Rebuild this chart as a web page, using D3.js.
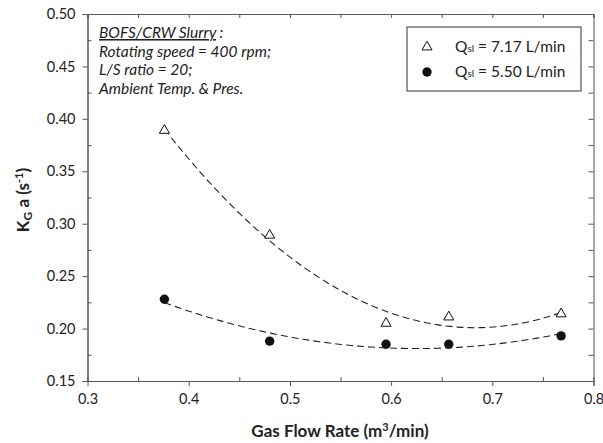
<!DOCTYPE html>
<html><head><meta charset="utf-8">
<script src="https://cdn.jsdelivr.net/npm/d3@7"></script>
<style>body{margin:0;background:#fff}svg{display:block}text{font-family:Lato,"Open Sans",sans-serif}</style>
</head><body><svg id="c" width="603" height="443"></svg>
<script>
const xTicks=[0.3,0.4,0.5,0.6,0.7,0.8];
const yTicks=[0.15,0.20,0.25,0.30,0.35,0.40,0.45,0.50];
const flowA=[0.376,0.480,0.595,0.657,0.768];
const kgaA=[0.389,0.289,0.205,0.211,0.214];
const flowB=[0.376,0.480,0.595,0.657,0.768];
const kgaB=[0.228,0.188,0.185,0.185,0.193];
const legendLabels=["7.17 L/min","5.50 L/min"];
const noteLines=["Rotating speed = 400 rpm;","L/S ratio = 20;","Ambient Temp. & Pres."];

const svg=d3.select("#c");
const L=87.5,R=593.5,T=14,B=381;
const x=d3.scaleLinear().domain([0.3,0.8]).range([L,R]);
const y=d3.scaleLinear().domain([0.15,0.50]).range([B,T]);
const axCol="#555";

function style(g){g.select(".domain").attr("stroke",axCol);g.selectAll(".tick line").attr("stroke",axCol);
 g.selectAll("text").attr("fill","#222").style("font-size","14.5px");}

const xMinor=d3.range(0.3,0.8001,0.05);
const yMinor=d3.range(0.15,0.5001,0.025);
svg.append("g").attr("transform",`translate(${L},0)`).call(d3.axisLeft(y).tickValues(yTicks).tickSize(5).tickFormat(d3.format(".2f")).tickPadding(7)).call(style);
svg.append("g").attr("transform",`translate(${L},0)`).call(d3.axisRight(y).tickValues(yMinor.filter((d,i)=>i%2==1)).tickSize(4).tickFormat("")).call(style);
svg.append("g").attr("transform",`translate(0,${B})`).call(d3.axisBottom(x).tickValues(xTicks.slice(1)).tickSize(5).tickFormat(d3.format(".1f")).tickPadding(8)).call(style);
svg.append("g").attr("transform",`translate(0,${B})`).call(d3.axisBottom(x).tickValues([0.3]).tickSize(0).tickFormat(d3.format(".1f")).tickPadding(13)).call(style);
svg.append("g").attr("transform",`translate(0,${B})`).call(d3.axisTop(x).tickValues(xMinor.filter((d,i)=>i%2==1)).tickSize(4).tickFormat("")).call(style);
svg.append("g").attr("transform",`translate(0,${T})`).call(d3.axisBottom(x).tickValues(xMinor).tickSize(4).tickFormat("")).call(style);
svg.append("g").attr("transform",`translate(${R},0)`).call(d3.axisLeft(y).tickValues(yMinor).tickSize(5).tickFormat("")).call(style);

function fit(xs,ys){
 let S=[0,0,0,0,0],Sy=[0,0,0];
 xs.forEach((xv,i)=>{for(let k=0;k<5;k++)S[k]+=Math.pow(xv,k);for(let k=0;k<3;k++)Sy[k]+=ys[i]*Math.pow(xv,k);});
 const M=[[S[0],S[1],S[2],Sy[0]],[S[1],S[2],S[3],Sy[1]],[S[2],S[3],S[4],Sy[2]]];
 for(let i=0;i<3;i++){for(let j=i+1;j<3;j++){const f=M[j][i]/M[i][i];for(let k=i;k<4;k++)M[j][k]-=f*M[i][k];}}
 const c=[0,0,0];for(let i=2;i>=0;i--){let s=M[i][3];for(let k=i+1;k<3;k++)s-=M[i][k]*c[k];c[i]=s/M[i][i];}
 return v=>c[0]+c[1]*v+c[2]*v*v;
}
const line=d3.line().x(d=>x(d[0])).y(d=>y(d[1]));
[[flowA,kgaA],[flowB,kgaB]].forEach(([xs,ys])=>{
 const f=fit(xs,ys);const pts=d3.range(0,101).map(i=>{const v=xs[0]+(xs[xs.length-1]-xs[0])*i/100;return [v,f(v)];});
 svg.append("path").attr("d",line(pts)).attr("fill","none").attr("stroke","#222").attr("stroke-width",1.1).attr("stroke-dasharray","7,4");
});
const tri=d3.symbol().type(d3.symbolTriangle).size(44);
svg.selectAll(".ta").data(flowA).enter().append("path").attr("d",tri).attr("transform",(d,i)=>`translate(${x(d)},${y(kgaA[i])})`).attr("fill","#fff").attr("stroke","#111").attr("stroke-width",1);
svg.selectAll(".cb").data(flowB).enter().append("circle").attr("cx",d=>x(d)).attr("cy",(d,i)=>y(kgaB[i])).attr("r",4.7).attr("fill","#111");

const ann=svg.append("g").attr("font-style","italic").style("font-size","15.5px").attr("fill","#222");
const t0=ann.append("text").attr("x",99).attr("y",38);
t0.append("tspan").attr("text-decoration","underline").text("BOFS/CRW Slurry");
t0.append("tspan").text(" :");
noteLines.forEach((s,i)=>ann.append("text").attr("x",99).attr("y",57+i*18.3).text(s));

svg.append("rect").attr("x",407).attr("y",27).attr("width",174).attr("height",64).attr("fill","#fff").attr("stroke","#333");
svg.append("path").attr("d",tri).attr("transform","translate(427,47)").attr("fill","#fff").attr("stroke","#111");
svg.append("circle").attr("cx",427).attr("cy",72).attr("r",4.7).attr("fill","#111");
legendLabels.forEach((s,i)=>{
 const t=svg.append("text").attr("x",455).attr("y",52+i*25).style("font-size","15.5px").attr("fill","#222");
 t.append("tspan").text("Q");t.append("tspan").style("font-size","10px").text("sl");t.append("tspan").text(" = "+s);
});

const xt=svg.append("text").attr("x",340).attr("y",437).attr("text-anchor","middle").style("font-size","17px").attr("font-weight","bold").attr("fill","#222");
xt.append("tspan").text("Gas Flow Rate (m");xt.append("tspan").attr("dy",-6).style("font-size","11px").text("3");xt.append("tspan").attr("dy",6).text("/min)");
const yt=svg.append("text").attr("transform","translate(29,200) rotate(-90)").attr("text-anchor","middle").style("font-size","17px").attr("font-weight","bold").attr("fill","#222");
yt.append("tspan").text("K");yt.append("tspan").attr("dy",3).style("font-size","12px").text("G");yt.append("tspan").attr("dy",-3).text(" a (s");
yt.append("tspan").attr("dy",-6).style("font-size","11px").text("-1");yt.append("tspan").attr("dy",6).text(")");
</script></body></html>
